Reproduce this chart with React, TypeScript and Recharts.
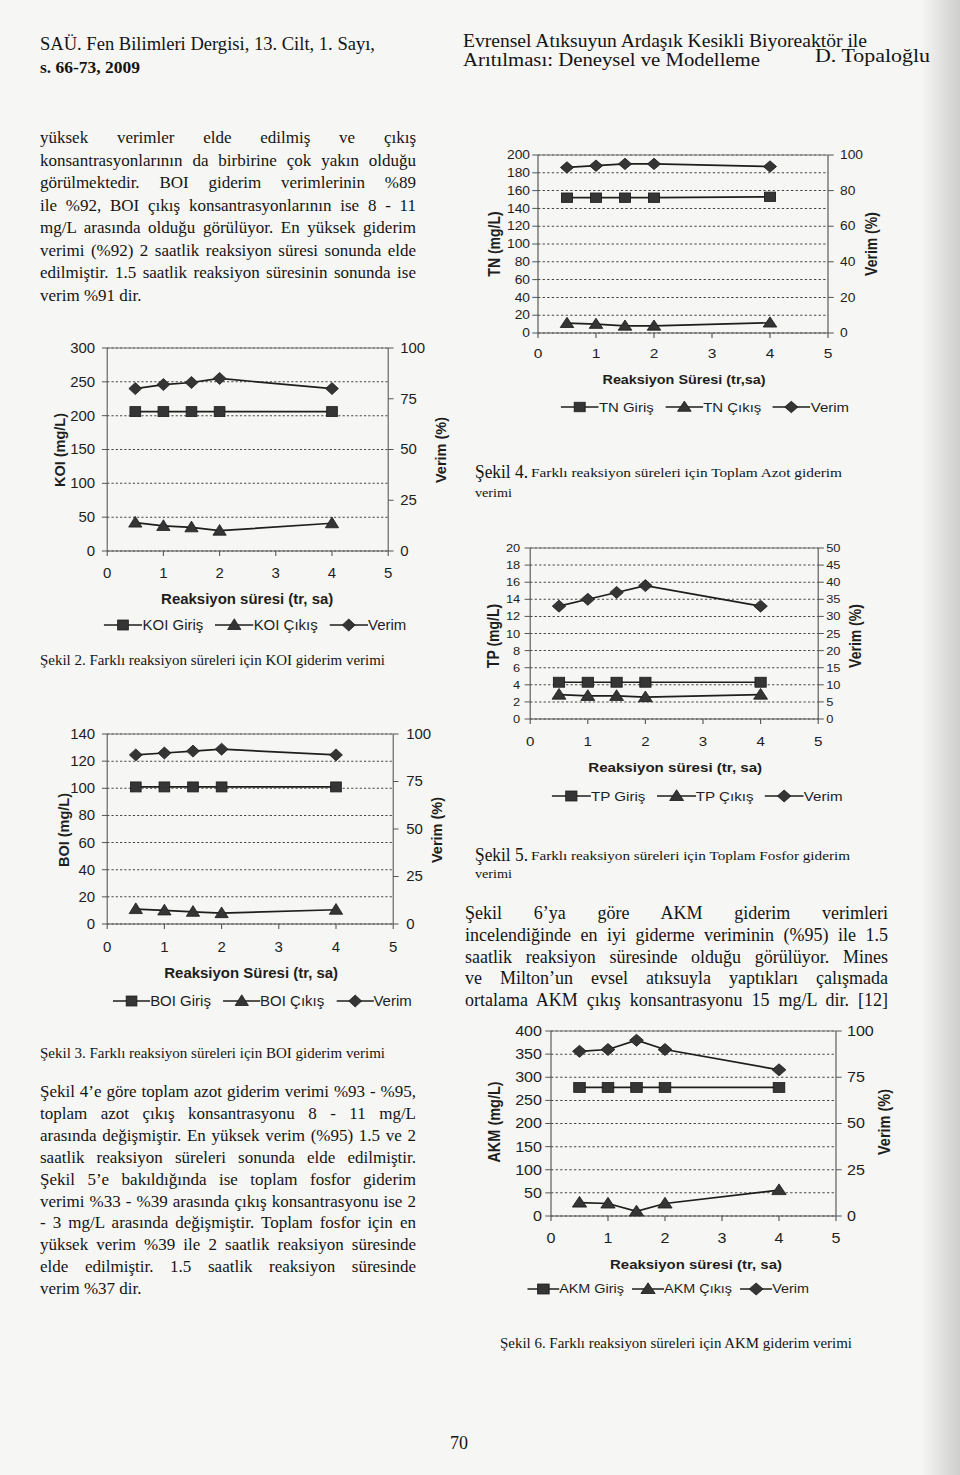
import React from 'react';
import { ComposedChart, Line, XAxis, YAxis, CartesianGrid, ReferenceLine, Legend } from 'recharts';

const INK = '#1e1e1e';
const MARK = '#353535';
const SANS = '"Liberation Sans", Arial, sans-serif';
const SERIF = '"Liberation Serif", "Times New Roman", serif';

// reaction times (h), same for every figure
const TIMES = [0.5, 1, 1.5, 2, 4];
const X_TICKS = [0, 1, 2, 3, 4, 5];

// Şekil 2 - KOI
const KOI_GIRIS = [206, 206, 206, 206, 206];
const KOI_CIKIS = [42, 37, 35, 30, 41];
const KOI_VERIM = [80, 82, 83, 85, 80];
const KOI_TICKS = [0, 50, 100, 150, 200, 250, 300];
const KOI_VERIM_TICKS = [0, 25, 50, 75, 100];

// Şekil 3 - BOI
const BOI_GIRIS = [101, 101, 101, 101, 101];
const BOI_CIKIS = [11, 10, 9, 8, 10.5];
const BOI_VERIM = [89, 90, 91, 92, 89];
const BOI_TICKS = [0, 20, 40, 60, 80, 100, 120, 140];
const BOI_VERIM_TICKS = [0, 25, 50, 75, 100];

// Şekil 4 - TN
const TN_GIRIS = [152, 152, 152, 152, 153];
const TN_CIKIS = [11, 10, 8, 8, 11.5];
const TN_VERIM = [93, 94, 95, 95, 93.5];
const TN_TICKS = [0, 20, 40, 60, 80, 100, 120, 140, 160, 180, 200];
const TN_VERIM_TICKS = [0, 20, 40, 60, 80, 100];

// Şekil 5 - TP
const TP_GIRIS = [4.3, 4.3, 4.3, 4.3, 4.3];
const TP_CIKIS = [2.85, 2.7, 2.7, 2.55, 2.85];
const TP_VERIM = [33, 35, 37, 39, 33];
const TP_TICKS = [0, 2, 4, 6, 8, 10, 12, 14, 16, 18, 20];
const TP_VERIM_TICKS = [0, 5, 10, 15, 20, 25, 30, 35, 40, 45, 50];

// Şekil 6 - AKM
const AKM_GIRIS = [278, 278, 278, 278, 278];
const AKM_CIKIS = [29, 27, 10, 27, 56];
const AKM_VERIM = [89, 90, 95, 90, 79];
const AKM_TICKS = [0, 50, 100, 150, 200, 250, 300, 350, 400];
const AKM_VERIM_TICKS = [0, 25, 50, 75, 100];

const P1 = [
  'yüksek verimler elde edilmiş ve çıkış',
  'konsantrasyonlarının da birbirine çok yakın olduğu',
  'görülmektedir. BOI giderim verimlerinin %89',
  'ile %92, BOI çıkış konsantrasyonlarının ise 8 - 11',
  'mg/L arasında olduğu görülüyor. En yüksek giderim',
  'verimi (%92) 2 saatlik reaksiyon süresi sonunda elde',
  'edilmiştir. 1.5 saatlik reaksiyon süresinin sonunda ise',
  'verim %91 dir.',
];
const P2 = [
  'Şekil 4’e göre toplam azot giderim verimi %93 - %95,',
  'toplam azot çıkış konsantrasyonu 8 - 11 mg/L',
  'arasında değişmiştir. En yüksek verim (%95) 1.5 ve 2',
  'saatlik reaksiyon süreleri sonunda elde edilmiştir.',
  'Şekil 5’e bakıldığında ise toplam fosfor giderim',
  'verimi %33 - %39 arasında çıkış konsantrasyonu ise 2',
  '- 3 mg/L arasında değişmiştir. Toplam fosfor için en',
  'yüksek verim %39 ile 2 saatlik reaksiyon süresinde',
  'elde edilmiştir. 1.5 saatlik reaksiyon süresinde',
  'verim %37 dir.',
];
const P3 = [
  'Şekil 6’ya göre AKM giderim verimleri',
  'incelendiğinde en iyi giderme veriminin (%95) ile 1.5',
  'saatlik reaksiyon süresinde olduğu görülüyor. Mines',
  've Milton’un evsel atıksuyla yaptıkları çalışmada',
  'ortalama AKM çıkış konsantrasyonu 15 mg/L dir. [12]',
];

type Cfg = {
  x0: number; x1: number; yTop: number; yBot: number; sx: number;
  ticks: number[]; rTicks: number[];
  giris: number[]; cikis: number[]; verim: number[]; names: string[];
  yFs: number; xFs: number; lGap: number; rGap: number; xLab: number;
  yLabel: string; yLabX: number; rLabX: number; labY: number; labFs: number;
  title: string; titleX: number; titleY: number; titleFs: number;
  legX: number; legY: number; legFs: number; legIcon: number; legGap: number; ms: number;
};

const PANELS: Cfg[] = [
  {
    x0: 107, x1: 388, yTop: 348, yBot: 551, sx: 1.07,
    ticks: KOI_TICKS, rTicks: KOI_VERIM_TICKS,
    giris: KOI_GIRIS, cikis: KOI_CIKIS, verim: KOI_VERIM, names: ['KOI Giriş', 'KOI Çıkış', 'Verim'],
    yFs: 14, xFs: 14, lGap: 12, rGap: 12, xLab: 22,
    yLabel: 'KOI  (mg/L)', yLabX: 59, rLabX: 440, labY: 450, labFs: 14.5,
    title: 'Reaksiyon süresi (tr, sa)', titleX: 247, titleY: 599, titleFs: 14,
    legX: 255, legY: 625, legFs: 14, legIcon: 36, legGap: 11, ms: 10,
  },
  {
    x0: 107, x1: 393, yTop: 734, yBot: 924, sx: 1.07,
    ticks: BOI_TICKS, rTicks: BOI_VERIM_TICKS,
    giris: BOI_GIRIS, cikis: BOI_CIKIS, verim: BOI_VERIM, names: ['BOI Giriş', 'BOI Çıkış', 'Verim'],
    yFs: 14, xFs: 14, lGap: 12, rGap: 13, xLab: 23,
    yLabel: 'BOI (mg/L)', yLabX: 63, rLabX: 436, labY: 830, labFs: 14.5,
    title: 'Reaksiyon Süresi (tr, sa)', titleX: 251, titleY: 973, titleFs: 14,
    legX: 262, legY: 1001, legFs: 14, legIcon: 35, legGap: 11, ms: 10,
  },
  {
    x0: 538, x1: 828, yTop: 155, yBot: 333, sx: 1.15,
    ticks: TN_TICKS, rTicks: TN_VERIM_TICKS,
    giris: TN_GIRIS, cikis: TN_CIKIS, verim: TN_VERIM, names: ['TN Giriş', 'TN Çıkış', 'Verim'],
    yFs: 12, xFs: 13.5, lGap: 8, rGap: 12, xLab: 20,
    yLabel: 'TN  (mg/L)', yLabX: 494, rLabX: 871, labY: 244, labFs: 14,
    title: 'Reaksiyon Süresi (tr,sa)', titleX: 684, titleY: 380, titleFs: 12.5,
    legX: 705, legY: 407, legFs: 13, legIcon: 33, legGap: 10, ms: 9.5,
  },
  {
    x0: 530, x1: 818, yTop: 548, yBot: 719, sx: 1.12,
    ticks: TP_TICKS, rTicks: TP_VERIM_TICKS,
    giris: TP_GIRIS, cikis: TP_CIKIS, verim: TP_VERIM, names: ['TP Giriş', 'TP Çıkış', 'Verim'],
    yFs: 11.5, xFs: 13.5, lGap: 10, rGap: 8, xLab: 22,
    yLabel: 'TP (mg/L)', yLabX: 494, rLabX: 856, labY: 636, labFs: 14,
    title: 'Reaksiyon süresi (tr, sa)', titleX: 675, titleY: 767, titleFs: 13.5,
    legX: 697, legY: 796, legFs: 13.5, legIcon: 35, legGap: 10, ms: 10,
  },
  {
    x0: 551, x1: 836, yTop: 1031, yBot: 1216, sx: 1.15,
    ticks: AKM_TICKS, rTicks: AKM_VERIM_TICKS,
    giris: AKM_GIRIS, cikis: AKM_CIKIS, verim: AKM_VERIM, names: ['AKM Giriş', 'AKM Çıkış', 'Verim'],
    yFs: 14, xFs: 14, lGap: 9, rGap: 11, xLab: 22,
    yLabel: 'AKM  (mg/L)', yLabX: 494, rLabX: 884, labY: 1122, labFs: 14.5,
    title: 'Reaksiyon süresi (tr, sa)', titleX: 696, titleY: 1264, titleFs: 13,
    legX: 668, legY: 1289, legFs: 12.5, legIcon: 28, legGap: 7, ms: 10,
  },
];

const SHAPES = ['square', 'triangle', 'diamond'];
const KEYS = ['giris', 'cikis', 'verim'];

function Marker({ shape, cx, cy, s }: { shape: string; cx: number; cy: number; s: number }) {
  if (shape === 'square') {
    return <rect x={cx - s / 2} y={cy - s / 2} width={s} height={s} fill={MARK} stroke={INK} strokeWidth={0.8} />;
  }
  if (shape === 'triangle') {
    const pts = `${cx},${cy - s * 0.62} ${cx - s * 0.62},${cy + s * 0.45} ${cx + s * 0.62},${cy + s * 0.45}`;
    return <polygon points={pts} fill={MARK} stroke={INK} strokeWidth={0.8} />;
  }
  const d = s * 0.6;
  return <polygon points={`${cx},${cy - d} ${cx + d},${cy} ${cx},${cy + d} ${cx - d},${cy}`} fill={MARK} stroke={INK} strokeWidth={0.8} />;
}

const dotFor = (shape: string, s: number) => (p: any) =>
  <Marker key={`${shape}-${p.index}`} shape={shape} cx={p.cx} cy={p.cy} s={s} />;

const LW = 60, RW = 70, MT = 10, XH = 90;

function Panel({ c }: { c: Cfg }) {
  const pw = (c.x1 - c.x0) / c.sx;
  const ph = c.yBot - c.yTop;
  const W = LW + pw + RW;
  const H = MT + ph + XH;
  const left = c.x0 - c.sx * LW;
  const top = c.yTop - MT;
  const ix = (px: number) => (px - left) / c.sx;
  const iy = (py: number) => py - top;
  const data = TIMES.map((t, i) => ({ t, giris: c.giris[i], cikis: c.cikis[i], verim: c.verim[i] }));
  const yMax = c.ticks[c.ticks.length - 1];
  const rMax = c.rTicks[c.rTicks.length - 1];

  const vText = (txt: string, px: number) => {
    const x = ix(px), y = iy(c.labY);
    return (
      <text x={x} y={y} transform={`rotate(-90 ${x} ${y})`} textAnchor="middle" dominantBaseline="central"
        fontFamily={SANS} fontWeight="bold" fontSize={c.labFs} fill={INK}>{txt}</text>
    );
  };

  return (
    <div style={{ position: 'absolute', left, top, width: W, height: H, transform: `scaleX(${c.sx})`, transformOrigin: '0 0' }}>
      <ComposedChart width={W} height={H} data={data} margin={{ top: MT, right: 0, bottom: 0, left: 0 }}>
        <CartesianGrid yAxisId="l" vertical={false} stroke="#444" strokeDasharray="2 2" />
        <XAxis
          type="number" dataKey="t" domain={[0, 5]} ticks={X_TICKS} interval={0} height={XH}
          tickSize={5} tickMargin={c.xLab - 5 - 0.36 * c.xFs}
          tick={{ fontSize: c.xFs, fill: INK, fontFamily: SANS }} stroke="#555"
          label={() => (
            <text x={ix(c.titleX)} y={iy(c.titleY)} textAnchor="middle" dominantBaseline="central"
              fontFamily={SANS} fontWeight="bold" fontSize={c.titleFs} fill={INK}>{c.title}</text>
          )}
        />
        <YAxis
          yAxisId="l" orientation="left" width={LW} domain={[0, yMax]} ticks={c.ticks} interval={0}
          tickSize={5} tickMargin={c.lGap / c.sx - 5}
          tick={{ fontSize: c.yFs, fill: INK, fontFamily: SANS }} stroke="#555"
          label={() => vText(c.yLabel, c.yLabX)}
        />
        <YAxis
          yAxisId="r" orientation="right" width={RW} domain={[0, rMax]} ticks={c.rTicks} interval={0}
          tickSize={5} tickMargin={c.rGap / c.sx - 5}
          tick={{ fontSize: c.yFs, fill: INK, fontFamily: SANS }} stroke="#555"
          label={() => vText('Verim (%)', c.rLabX)}
        />
        <ReferenceLine yAxisId="l" y={yMax} stroke="#777" />
        {KEYS.map((k, i) => (
          <Line
            key={k} yAxisId={k === 'verim' ? 'r' : 'l'} dataKey={k} name={c.names[i]} type="linear"
            stroke={INK} strokeWidth={1.7} dot={dotFor(SHAPES[i], c.ms)} activeDot={false}
            isAnimationActive={false}
          />
        ))}
        <Legend
          layout="horizontal" verticalAlign="middle" align="center"
          wrapperStyle={{ top: iy(c.legY) - 10, left: 0, width: W, height: 20 }}
          content={() => (
            <div style={{
              position: 'absolute', left: ix(c.legX), top: 0, height: 20, transform: 'translateX(-50%)',
              display: 'flex', alignItems: 'center', whiteSpace: 'nowrap', fontFamily: SANS, fontSize: c.legFs, color: INK,
            }}>
              {KEYS.map((k, i) => (
                <span key={k} style={{ display: 'flex', alignItems: 'center', marginRight: i < 2 ? c.legGap : 0 }}>
                  <svg width={c.legIcon} height={18}>
                    <line x1={0} y1={9} x2={c.legIcon} y2={9} stroke={INK} strokeWidth={1.7} />
                    <Marker shape={SHAPES[i]} cx={c.legIcon / 2} cy={9} s={c.ms} />
                  </svg>
                  <span>{c.names[i]}</span>
                </span>
              ))}
            </div>
          )}
        />
      </ComposedChart>
    </div>
  );
}

function Para({ x, y0, step, w, fs, lines, lastJustified }: { x: number; y0: number; step: number; w: number; fs: number; lines: string[]; lastJustified: boolean }) {
  const LH = 22;
  return (
    <>
      {lines.map((ln, i) => {
        const just = i < lines.length - 1 || lastJustified;
        return (
          <div key={i} style={{
            position: 'absolute', left: x, top: y0 + i * step - LH / 2, width: w, height: LH, lineHeight: `${LH}px`,
            fontFamily: SERIF, fontSize: fs, color: '#141414',
            textAlign: just ? 'justify' : 'left', textAlignLast: just ? 'justify' : 'left',
          }}>{ln}</div>
        );
      })}
    </>
  );
}

function T({ x, y, w, fs, bold, children }: { x: number; y: number; w: number; fs: number; bold?: boolean; children: string }) {
  return (
    <text x={x} y={y} fontSize={fs} fontWeight={bold ? 'bold' : 'normal'} textLength={w} lengthAdjust="spacingAndGlyphs">{children}</text>
  );
}

export default function App() {
  return (
    <div style={{ position: 'absolute', left: 0, top: 0, width: 960, height: 1475, overflow: 'hidden', background: '#f6f6f4' }}>
      <div style={{ position: 'absolute', right: 0, top: 0, width: 40, height: 1475, background: 'linear-gradient(to right, rgba(0,0,0,0), rgba(0,0,0,0.16))' }} />
      <svg width={960} height={1475} style={{ position: 'absolute', left: 0, top: 0 }} fontFamily={SERIF} fill="#141414">
        <T x={40} y={50} w={335} fs={18}>SAÜ. Fen Bilimleri Dergisi, 13. Cilt, 1. Sayı,</T>
        <T x={40} y={73} w={100} fs={17} bold>s. 66-73, 2009</T>
        <T x={463} y={47} w={404} fs={18}>Evrensel Atıksuyun Ardaşık Kesikli Biyoreaktör ile</T>
        <T x={463} y={66} w={297} fs={18}>Arıtılması: Deneysel ve Modelleme</T>
        <T x={815} y={62} w={115} fs={19}>D. Topaloğlu</T>

        <T x={40} y={665} w={345} fs={14}>Şekil 2. Farklı reaksiyon süreleri için KOI giderim verimi</T>
        <T x={40} y={1058} w={345} fs={14}>Şekil 3. Farklı reaksiyon süreleri için BOI giderim verimi</T>

        <T x={475} y={478} w={53} fs={18}>Şekil 4.</T>
        <T x={531} y={477} w={311} fs={13.5}>Farklı reaksiyon süreleri için Toplam Azot giderim</T>
        <T x={475} y={497} w={37} fs={13.5}>verimi</T>

        <T x={475} y={861} w={53} fs={18}>Şekil 5.</T>
        <T x={531} y={860} w={319} fs={13.5}>Farklı reaksiyon süreleri için Toplam Fosfor giderim</T>
        <T x={475} y={878} w={37} fs={13.5}>verimi</T>

        <T x={500} y={1348} w={352} fs={14}>Şekil 6. Farklı reaksiyon süreleri için AKM giderim verimi</T>
        <T x={450} y={1449} w={18} fs={18}>70</T>
      </svg>

      <Para x={40} y0={138} step={22.5} w={376} fs={17} lines={P1} lastJustified={false} />
      <Para x={40} y0={1092} step={21.9} w={376} fs={17} lines={P2} lastJustified={false} />
      <Para x={465} y0={913} step={21.8} w={423} fs={18} lines={P3} lastJustified />

      {PANELS.map((c, i) => <Panel key={i} c={c} />)}
    </div>
  );
}
